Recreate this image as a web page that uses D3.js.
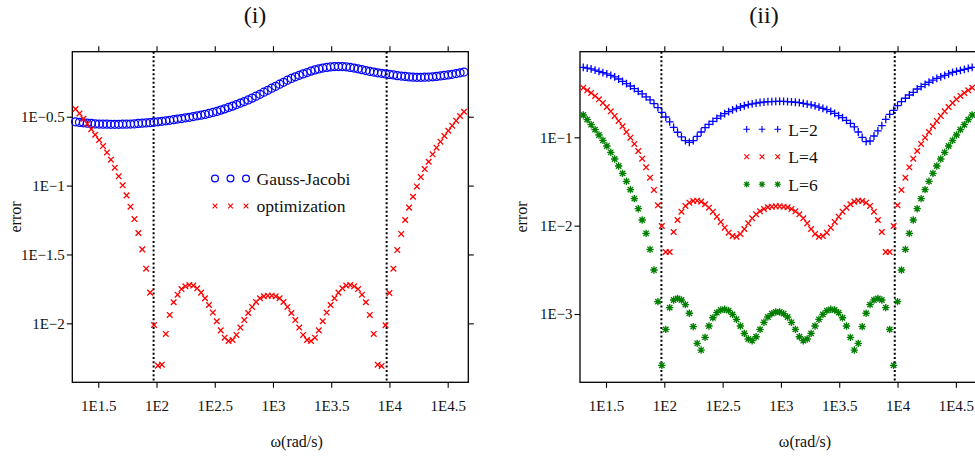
<!DOCTYPE html>
<html><head><meta charset="utf-8">
<script src="https://cdn.jsdelivr.net/npm/d3@7"></script>
<style>
body{margin:0;background:#fff;}
svg{display:block;}
text{font-family:"Liberation Serif","Times New Roman",serif;fill:#111;}
</style>
</head><body>
<svg id="chart" width="975" height="458"></svg>
<script>
// ---- data (log10 of omega, log10 of error) ----
const omegaExp = [1.3050,1.3387,1.3724,1.4061,1.4397,1.4734,1.5071,1.5408,1.5745,1.6082,
1.6419,1.6756,1.7092,1.7429,1.7766,1.8103,1.8440,1.8777,1.9114,1.9451,
1.9787,2.0124,2.0461,2.0798,2.1135,2.1472,2.1809,2.2145,2.2482,2.2819,
2.3156,2.3493,2.3830,2.4167,2.4504,2.4840,2.5177,2.5514,2.5851,2.6188,
2.6525,2.6862,2.7199,2.7535,2.7872,2.8209,2.8546,2.8883,2.9220,2.9557,
2.9893,3.0230,3.0567,3.0904,3.1241,3.1578,3.1915,3.2252,3.2588,3.2925,
3.3262,3.3599,3.3936,3.4273,3.4610,3.4947,3.5283,3.5620,3.5957,3.6294,
3.6631,3.6968,3.7305,3.7641,3.7978,3.8315,3.8652,3.8989,3.9326,3.9663,
3.9999,4.0336,4.0673,4.1010,4.1347,4.1684,4.2021,4.2358,4.2694,4.3031,
4.3368,4.3705,4.4042,4.4379,4.4716,4.5053,4.5389,4.5726,4.6063,4.6400];

const gaussJacobiExp = [-0.537,-0.541,-0.544,-0.547,-0.549,-0.552,-0.553,-0.554,-0.554,-0.555,
-0.555,-0.555,-0.554,-0.554,-0.553,-0.552,-0.549,-0.547,-0.545,-0.543,
-0.540,-0.537,-0.533,-0.530,-0.526,-0.522,-0.517,-0.513,-0.508,-0.504,
-0.499,-0.493,-0.489,-0.483,-0.476,-0.469,-0.462,-0.452,-0.443,-0.433,
-0.423,-0.412,-0.401,-0.390,-0.378,-0.365,-0.351,-0.337,-0.322,-0.308,
-0.293,-0.279,-0.264,-0.250,-0.235,-0.222,-0.210,-0.199,-0.189,-0.179,
-0.169,-0.160,-0.153,-0.147,-0.142,-0.139,-0.136,-0.136,-0.136,-0.138,
-0.142,-0.147,-0.152,-0.158,-0.165,-0.171,-0.176,-0.181,-0.185,-0.189,
-0.193,-0.197,-0.202,-0.205,-0.208,-0.211,-0.213,-0.214,-0.214,-0.213,
-0.212,-0.210,-0.207,-0.204,-0.200,-0.197,-0.192,-0.187,-0.181,-0.176];

const optimizationExp = [-0.444,-0.476,-0.515,-0.551,-0.590,-0.631,-0.669,-0.713,-0.759,-0.812,
-0.870,-0.933,-0.998,-1.071,-1.153,-1.243,-1.344,-1.463,-1.603,-1.777,
-2.012,-2.307,-2.300,-2.077,-1.939,-1.847,-1.792,-1.751,-1.731,-1.722,
-1.726,-1.746,-1.777,-1.818,-1.867,-1.922,-1.985,-2.051,-2.104,-2.128,
-2.121,-2.084,-2.031,-1.976,-1.925,-1.881,-1.845,-1.818,-1.804,-1.799,
-1.799,-1.804,-1.818,-1.845,-1.881,-1.925,-1.976,-2.031,-2.084,-2.121,
-2.128,-2.104,-2.051,-1.985,-1.922,-1.867,-1.818,-1.777,-1.746,-1.726,
-1.722,-1.731,-1.751,-1.792,-1.847,-1.939,-2.077,-2.300,-2.309,-2.014,
-1.780,-1.603,-1.468,-1.351,-1.250,-1.160,-1.081,-1.006,-0.938,-0.880,
-0.827,-0.773,-0.725,-0.681,-0.640,-0.602,-0.565,-0.529,-0.495,-0.464];

const L2Exp = [-0.208,-0.217,-0.226,-0.240,-0.253,-0.268,-0.281,-0.298,-0.317,-0.340,
-0.366,-0.392,-0.419,-0.449,-0.479,-0.509,-0.542,-0.577,-0.619,-0.664,
-0.717,-0.770,-0.826,-0.887,-0.943,-0.996,-1.038,-1.057,-1.038,-0.989,
-0.940,-0.891,-0.853,-0.819,-0.785,-0.758,-0.732,-0.709,-0.689,-0.672,
-0.657,-0.643,-0.630,-0.621,-0.613,-0.606,-0.601,-0.597,-0.595,-0.593,
-0.593,-0.594,-0.596,-0.599,-0.603,-0.608,-0.615,-0.625,-0.634,-0.645,
-0.658,-0.672,-0.687,-0.706,-0.728,-0.755,-0.777,-0.808,-0.842,-0.883,
-0.940,-1.000,-1.049,-1.042,-0.985,-0.928,-0.868,-0.796,-0.740,-0.694,
-0.642,-0.596,-0.558,-0.521,-0.491,-0.453,-0.426,-0.400,-0.377,-0.353,
-0.334,-0.317,-0.298,-0.281,-0.264,-0.253,-0.242,-0.230,-0.219,-0.208];

const L4Exp = [-0.438,-0.468,-0.498,-0.532,-0.570,-0.611,-0.657,-0.706,-0.758,-0.815,
-0.875,-0.940,-1.004,-1.075,-1.155,-1.242,-1.340,-1.457,-1.596,-1.770,
-2.004,-2.298,-2.298,-2.072,-1.936,-1.842,-1.777,-1.740,-1.721,-1.717,
-1.728,-1.758,-1.796,-1.842,-1.898,-1.958,-2.023,-2.079,-2.117,-2.125,
-2.094,-2.038,-1.974,-1.917,-1.872,-1.838,-1.811,-1.792,-1.785,-1.781,
-1.781,-1.785,-1.792,-1.811,-1.838,-1.872,-1.917,-1.974,-2.038,-2.094,
-2.125,-2.117,-2.079,-2.023,-1.958,-1.898,-1.842,-1.796,-1.758,-1.728,
-1.717,-1.721,-1.740,-1.777,-1.842,-1.936,-2.072,-2.298,-2.298,-2.004,
-1.770,-1.596,-1.457,-1.340,-1.242,-1.155,-1.075,-1.004,-0.940,-0.875,
-0.815,-0.758,-0.706,-0.657,-0.611,-0.570,-0.532,-0.498,-0.468,-0.438];

const L6Exp = [-0.747,-0.800,-0.857,-0.913,-0.974,-1.034,-1.098,-1.170,-1.245,-1.325,
-1.408,-1.498,-1.592,-1.694,-1.808,-1.936,-2.087,-2.268,-2.502,-2.860,
-3.581,-3.174,-2.928,-2.842,-2.823,-2.842,-2.894,-2.992,-3.143,-3.332,
-3.408,-3.264,-3.136,-3.042,-2.985,-2.955,-2.947,-2.962,-3.004,-3.060,
-3.136,-3.219,-3.283,-3.302,-3.257,-3.174,-3.094,-3.034,-2.996,-2.977,
-2.977,-2.996,-3.034,-3.094,-3.174,-3.257,-3.302,-3.283,-3.219,-3.136,
-3.060,-3.004,-2.962,-2.947,-2.955,-2.985,-3.042,-3.136,-3.264,-3.408,
-3.332,-3.143,-2.992,-2.894,-2.842,-2.823,-2.842,-2.928,-3.174,-3.581,
-2.860,-2.502,-2.268,-2.087,-1.936,-1.808,-1.694,-1.592,-1.498,-1.408,
-1.325,-1.245,-1.170,-1.098,-1.034,-0.974,-0.913,-0.857,-0.800,-0.747];

const bandEdgeExp = [1.975, 3.976];
const xTickExp = [1.5, 2, 2.5, 3, 3.5, 4, 4.5];
const xTickLabels = ["1E1.5", "1E2", "1E2.5", "1E3", "1E3.5", "1E4", "1E4.5"];
const leftYTickExp = [-0.5, -1, -1.5, -2];
const leftYTickLabels = ["1E\u22120.5", "1E\u22121", "1E\u22121.5", "1E\u22122"];
const rightYTickExp = [-1, -2, -3];
const rightYTickLabels = ["1E\u22121", "1E\u22122", "1E\u22123"];
const leftSeriesNames = ["Gauss-Jacobi", "optimization"];
const rightSeriesNames = ["L=2", "L=4", "L=6"];
const panelTitles = ["(i)", "(ii)"];
const xAxisTitle = "\u03c9(rad/s)";
const yAxisTitle = "error";

// ---- drawing ----
const svg = d3.select("#chart");
const xDomain = [1.277, 4.677];

const markers = {
  circle: {d: null, color: "#0000ff"},
  x: {d: (s => `M${-s},${-s}L${s},${s}M${-s},${s}L${s},${-s}`)(2.8), color: "#ff0000"},
  plus: {d: (s => `M${-s},0H${s}M0,${-s}V${s}`)(3.9), color: "#0000ff"},
  star: {d: ((s, t) => `M${-s},0H${s}M0,${-s}V${s}M${-t},${-t}L${t},${t}M${-t},${t}L${t},${-t}`)(3.7, 2.7), color: "#008000"}
};

function drawMarker(g, type, cx, cy, small) {
  const m = markers[type];
  const k = small ? 0.85 : 1;
  if (type === "circle") {
    g.append("circle").attr("cx", cx).attr("cy", cy).attr("r", 4 * k)
      .attr("fill", "none").attr("stroke", m.color).attr("stroke-width", 1.25);
  } else {
    g.append("path").attr("transform", `translate(${cx},${cy}) scale(${k})`).attr("d", m.d)
      .attr("fill", "none").attr("stroke", m.color)
      .attr("stroke-width", type === "star" ? 1.35 : 1.3);
  }
}

function panel(cfg) {
  const g = svg.append("g");
  const x = d3.scaleLinear().domain(xDomain).range([cfg.left, cfg.right]);
  const y = d3.scaleLinear().domain(cfg.yDomain).range([cfg.bottom, cfg.top]);

  const styleAxis = a => {
    a.select(".domain").remove();
    a.selectAll(".tick line").attr("stroke", "#000").attr("stroke-width", 1.1);
    a.attr("font-size", null).attr("font-family", null);
    a.selectAll("text").style("font-size", "15px").attr("fill", "#111");
  };

  g.append("g").attr("transform", `translate(0,${cfg.bottom})`)
    .call(d3.axisBottom(x).tickValues(xTickExp).tickFormat((d, i) => xTickLabels[i])
      .tickSize(5.5).tickPadding(12.5)).call(styleAxis);
  g.append("g").attr("transform", `translate(0,${cfg.top})`)
    .call(d3.axisTop(x).tickValues(xTickExp).tickFormat("").tickSize(5.5)).call(styleAxis);
  g.append("g").attr("transform", `translate(${cfg.left},0)`)
    .call(d3.axisLeft(y).tickValues(cfg.yTicks).tickFormat((d, i) => cfg.yLabels[i])
      .tickSize(5.5).tickPadding(2)).call(styleAxis);
  g.append("g").attr("transform", `translate(${cfg.right},0)`)
    .call(d3.axisRight(y).tickValues(cfg.yTicks).tickFormat("").tickSize(5.5)).call(styleAxis);

  g.append("rect").attr("x", cfg.left).attr("y", cfg.top)
    .attr("width", cfg.right - cfg.left).attr("height", cfg.bottom - cfg.top)
    .attr("fill", "none").attr("stroke", "#000").attr("stroke-width", 1.3);

  g.selectAll("line.band").data(bandEdgeExp).join("line").attr("class", "band")
    .attr("x1", d => x(d)).attr("x2", d => x(d))
    .attr("y1", cfg.top).attr("y2", cfg.bottom)
    .attr("stroke", "#000").attr("stroke-width", 2).attr("stroke-dasharray", "2,2.3");

  cfg.series.forEach(s => {
    const sg = g.append("g");
    omegaExp.forEach((w, i) => drawMarker(sg, s.marker, x(w), y(s.values[i]), false));
  });

  // legend
  cfg.series.forEach((s, j) => {
    const ly = cfg.legendY + j * cfg.legendStep;
    const lg = g.append("g");
    cfg.legendMarkX.forEach(mx => drawMarker(lg, s.marker, mx, ly, true));
    g.append("text").attr("x", cfg.legendTextX).attr("y", ly + 6.3)
      .style("font-size", "17.6px").text(s.name);
  });

  g.append("text").attr("x", cfg.titleX).attr("y", 22.5).attr("text-anchor", "middle")
    .style("font-size", "24px").text(cfg.title);
  g.append("text").attr("x", cfg.xLabelX).attr("y", 446.5).attr("text-anchor", "middle")
    .style("font-size", "16px").text(xAxisTitle);
  g.append("text").attr("transform", `translate(${cfg.yLabelX},217) rotate(-90)`)
    .attr("text-anchor", "middle").attr("dominant-baseline", "central")
    .style("font-size", "16px").text(yAxisTitle);
}

panel({
  left: 72.3, right: 468.3, top: 51.7, bottom: 382.3,
  yDomain: [-2.428, -0.028], yTicks: leftYTickExp, yLabels: leftYTickLabels,
  series: [
    {name: leftSeriesNames[0], values: gaussJacobiExp, marker: "circle"},
    {name: leftSeriesNames[1], values: optimizationExp, marker: "x"}
  ],
  legendMarkX: [215, 230.5, 246], legendY: 178.5, legendStep: 27.5, legendTextX: 256.5,
  title: panelTitles[0], titleX: 255, xLabelX: 296.7, yLabelX: 15
});

panel({
  left: 580, right: 976.5, top: 51.7, bottom: 382.3,
  yDomain: [-3.773, -0.031], yTicks: rightYTickExp, yLabels: rightYTickLabels,
  series: [
    {name: rightSeriesNames[0], values: L2Exp, marker: "plus"},
    {name: rightSeriesNames[1], values: L4Exp, marker: "x"},
    {name: rightSeriesNames[2], values: L6Exp, marker: "star"}
  ],
  legendMarkX: [746.7, 762, 777.7], legendY: 129.3, legendStep: 27.5, legendTextX: 788.3,
  title: panelTitles[1], titleX: 764, xLabelX: 805, yLabelX: 521.7
});
</script>
</body></html>
